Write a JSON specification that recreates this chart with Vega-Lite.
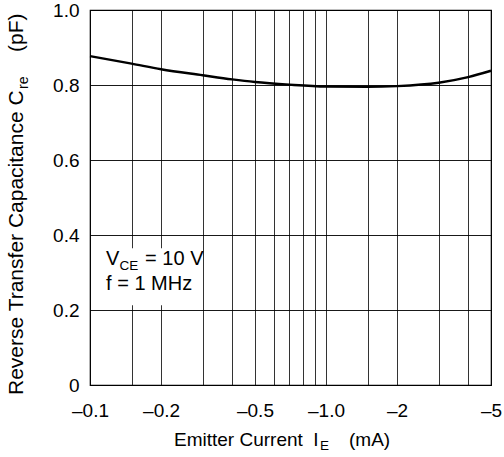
{
  "$schema": "https://vega.github.io/schema/vega-lite/v6.json",
  "width": 401,
  "height": 375,
  "autosize": {"type": "none"},
  "padding": {"left": 90, "top": 10, "right": 13, "bottom": 72},
  "background": "#ffffff",
  "config": {
    "font": "Liberation Sans",
    "view": {"stroke": "#000000", "strokeWidth": 1.2},
    "text": {"font": "Liberation Sans", "color": "#000000"}
  },
  "data": {
    "values": [
      {"IE": 0.1, "Cre": 0.877},
      {"IE": 0.15, "Cre": 0.857},
      {"IE": 0.2, "Cre": 0.842},
      {"IE": 0.3, "Cre": 0.826},
      {"IE": 0.4, "Cre": 0.815},
      {"IE": 0.5, "Cre": 0.808},
      {"IE": 0.7, "Cre": 0.801},
      {"IE": 1.0, "Cre": 0.796},
      {"IE": 1.5, "Cre": 0.795},
      {"IE": 2.0, "Cre": 0.797},
      {"IE": 3.0, "Cre": 0.806},
      {"IE": 4.0, "Cre": 0.821},
      {"IE": 5.0, "Cre": 0.838}
    ]
  },
  "layer": [
    {
      "mark": {"type": "line", "interpolate": "monotone", "color": "#000000", "strokeWidth": 2.5},
      "encoding": {
        "x": {
          "field": "IE",
          "type": "quantitative",
          "scale": {"type": "log", "domain": [0.1, 5], "nice": false},
          "axis": {
            "values": [0.1, 0.15, 0.2, 0.3, 0.4, 0.5, 0.6, 0.7, 0.8, 0.9, 1, 1.5, 2, 3, 4, 5],
            "labelExpr": "datum.value==0.1?'–0.1':datum.value==0.2?'–0.2':datum.value==0.5?'–0.5':datum.value==1?'–1.0':datum.value==2?'–2':datum.value==5?'–5':''",
            "title": null,
            "grid": true,
            "gridColor": "#000000",
            "gridWidth": 1,
            "gridOpacity": 0.8,
            "ticks": false,
            "tickSize": 0,
            "domain": false,
            "labelFontSize": 19,
            "labelFont": "Liberation Sans",
            "labelColor": "#000000",
            "labelPadding": 16,
            "labelFlush": false,
            "labelOverlap": false
          }
        },
        "y": {
          "field": "Cre",
          "type": "quantitative",
          "scale": {"domain": [0, 1], "nice": false},
          "axis": {
            "values": [0, 0.1, 0.2, 0.3, 0.4, 0.5, 0.6, 0.7, 0.8, 0.9, 1.0],
            "labelExpr": "datum.value==0?'0':(round(datum.value*10)%2==0?format(datum.value,'.1f'):'')",
            "title": null,
            "grid": true,
            "gridColor": "#000000",
            "gridWidth": 1,
            "gridOpacity": 0.9,
            "ticks": false,
            "tickSize": 0,
            "domain": false,
            "labelFontSize": 19,
            "labelFont": "Liberation Sans",
            "labelColor": "#000000",
            "labelPadding": 11,
            "labelFlush": false,
            "labelOverlap": false
          }
        }
      }
    },
    {
      "data": {"values": [{"box": "conditions"}]},
      "mark": {"type": "rect", "fill": "#ffffff", "stroke": null},
      "encoding": {
        "x": {"datum": 0.11, "type": "quantitative"},
        "x2": {"datum": 0.3},
        "y": {"datum": 0.213, "type": "quantitative"},
        "y2": {"datum": 0.365}
      }
    },
    {
      "data": {"values": [{"t": "V"}]},
      "mark": {"type": "text", "align": "left", "baseline": "alphabetic", "fontSize": 20},
      "encoding": {
        "x": {"datum": 0.117, "type": "quantitative"},
        "y": {"datum": 0.32, "type": "quantitative"},
        "text": {"field": "t"}
      }
    },
    {
      "data": {"values": [{"t": "CE"}]},
      "mark": {"type": "text", "align": "left", "baseline": "alphabetic", "fontSize": 13.5, "dx": 13.5, "dy": 5},
      "encoding": {
        "x": {"datum": 0.117, "type": "quantitative"},
        "y": {"datum": 0.32, "type": "quantitative"},
        "text": {"field": "t"}
      }
    },
    {
      "data": {"values": [{"t": "= 10 V"}]},
      "mark": {"type": "text", "align": "left", "baseline": "alphabetic", "fontSize": 20, "dx": 39},
      "encoding": {
        "x": {"datum": 0.117, "type": "quantitative"},
        "y": {"datum": 0.32, "type": "quantitative"},
        "text": {"field": "t"}
      }
    },
    {
      "data": {"values": [{"t": "f = 1 MHz"}]},
      "mark": {"type": "text", "align": "left", "baseline": "alphabetic", "fontSize": 20},
      "encoding": {
        "x": {"datum": 0.117, "type": "quantitative"},
        "y": {"datum": 0.253, "type": "quantitative"},
        "text": {"field": "t"}
      }
    },
    {
      "data": {"values": [{"t": "Emitter Current\u00a0\u00a0I"}]},
      "mark": {"type": "text", "align": "left", "baseline": "alphabetic", "fontSize": 19, "dx": 84, "dy": 61},
      "encoding": {
        "x": {"datum": 0.1, "type": "quantitative"},
        "y": {"datum": 0, "type": "quantitative"},
        "text": {"field": "t"}
      }
    },
    {
      "data": {"values": [{"t": "E"}]},
      "mark": {"type": "text", "align": "left", "baseline": "alphabetic", "fontSize": 13.5, "dx": 230, "dy": 65},
      "encoding": {
        "x": {"datum": 0.1, "type": "quantitative"},
        "y": {"datum": 0, "type": "quantitative"},
        "text": {"field": "t"}
      }
    },
    {
      "data": {"values": [{"t": "(mA)"}]},
      "mark": {"type": "text", "align": "left", "baseline": "alphabetic", "fontSize": 19, "dx": 259, "dy": 61},
      "encoding": {
        "x": {"datum": 0.1, "type": "quantitative"},
        "y": {"datum": 0, "type": "quantitative"},
        "text": {"field": "t"}
      }
    },
    {
      "data": {"values": [{"t": "Reverse Transfer Capacitance C"}]},
      "mark": {"type": "text", "align": "left", "baseline": "alphabetic", "fontSize": 21, "angle": 270, "dx": -10, "dy": -67},
      "encoding": {
        "x": {"datum": 0.1, "type": "quantitative"},
        "y": {"datum": 0, "type": "quantitative"},
        "text": {"field": "t"}
      }
    },
    {
      "data": {"values": [{"t": "re"}]},
      "mark": {"type": "text", "align": "left", "baseline": "alphabetic", "fontSize": 14, "angle": 270, "dx": 296, "dy": -62},
      "encoding": {
        "x": {"datum": 0.1, "type": "quantitative"},
        "y": {"datum": 0, "type": "quantitative"},
        "text": {"field": "t"}
      }
    },
    {
      "data": {"values": [{"t": "(pF)"}]},
      "mark": {"type": "text", "align": "left", "baseline": "alphabetic", "fontSize": 21, "angle": 270, "dx": 333, "dy": -67},
      "encoding": {
        "x": {"datum": 0.1, "type": "quantitative"},
        "y": {"datum": 0, "type": "quantitative"},
        "text": {"field": "t"}
      }
    }
  ]
}
